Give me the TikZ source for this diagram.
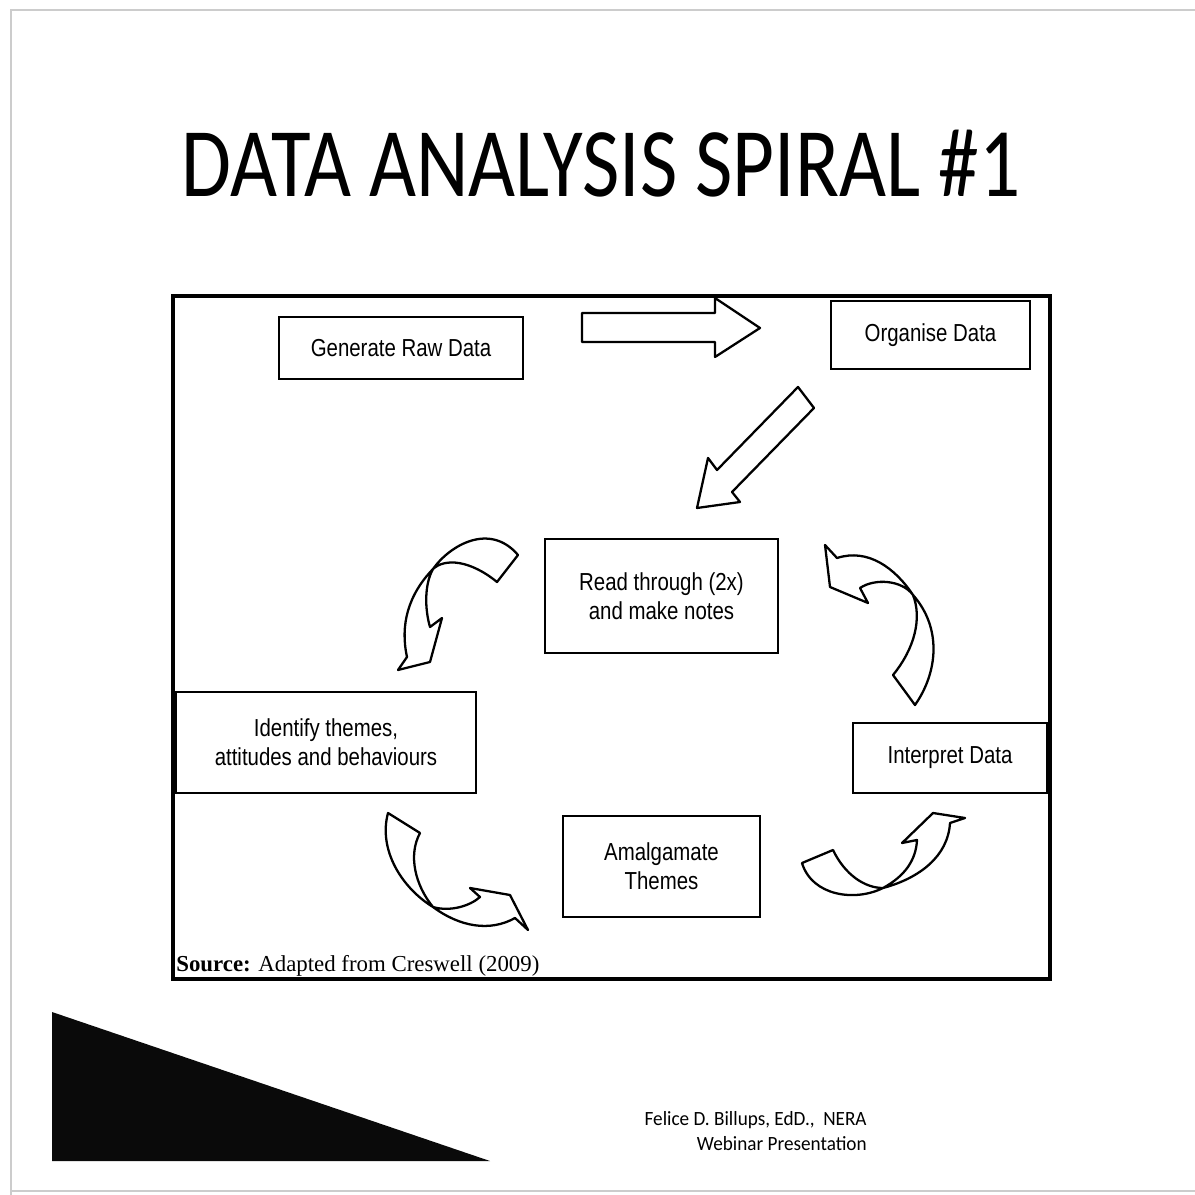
\documentclass[tikz,border=0pt]{standalone}
\usepackage{fontspec}
\setmainfont{Liberation Sans}
\newfontfamily\boxfont[FakeStretch=0.83]{Liberation Sans}
\newfontfamily\titlefont[FakeStretch=0.825]{Carlito}
\newfontfamily\notefont[FakeStretch=0.95]{Carlito}
\newfontfamily\srcfont{Liberation Serif}
\definecolor{slideedge}{gray}{0.8}
\tikzset{
  stepbox/.style={draw, line width=1.6pt, inner sep=0pt, align=center,
    font=\boxfont\fontsize{14}{16.5}\selectfont},
  blockarrow/.style={draw, line width=1.3pt, fill=white, line join=round}
}

\begin{document}
\begin{tikzpicture}[x=0.02cm, y=-0.02cm]
\useasboundingbox (0,0) rectangle (1194,1195);
% slide edge
\draw[slideedge, line width=1.6pt] (11,1200) -- (11,10) -- (1200,10);
\draw[slideedge, line width=1.2pt] (11,1191) -- (1200,1191);
\node[anchor=base, font=\titlefont\fontsize{56}{60}\selectfont] (title) at (601,197) {DATA ANALYSIS SPIRAL \#1};

% frame round the spiral
\draw[line width=2pt] (173,296) rectangle (1050,979);

% steps
\node[stepbox, minimum width=4.88cm, minimum height=1.24cm] (raw) at (401,348) {Generate Raw Data};
\node[stepbox, minimum width=3.98cm, minimum height=1.36cm] (organise) at (930.5,335) {Organise Data};
\node[stepbox, minimum width=4.66cm, minimum height=2.28cm] (read) at (661.5,596) {Read through (2x)\\and make notes};
\node[stepbox, minimum width=6cm, minimum height=2.02cm] (themes) at (326,742.5) {Identify themes,\\attitudes and behaviours};
\node[stepbox, minimum width=3.88cm, minimum height=1.4cm] (interpret) at (950,758) {Interpret Data};
\node[stepbox, minimum width=3.94cm, minimum height=2.02cm] (amalgamate) at (661.5,866.5) {Amalgamate\\Themes};

% straight block arrows
\draw[blockarrow] (582,313) -- (715,313) -- (715,298) -- (760,328) -- (715,357) -- (715,342) -- (582,342) -- cycle;
\draw[blockarrow] (798,387) -- (717,470) -- (708,458) -- (697,508) -- (740,502) -- (732,492) -- (814,408) -- cycle;

% twisted arrows round the loop
\draw[blockarrow] (518,555) -- (497,582) .. controls (470,560) and (445,558) .. (433,569)
  .. controls (424,585) and (425,610) .. (430,627) -- (442,618) -- (430,662) -- (398,670) -- (407,657)
  .. controls (400,625) and (408,595) .. (433,569) .. controls (450,545) and (490,522) .. cycle;
\draw[blockarrow] (915,705) .. controls (938,672) and (942,628) .. (913,595)
  .. controls (895,568) and (868,548) .. (837,558) -- (825,545) -- (830,587) -- (868,603) -- (860,588)
  .. controls (875,578) and (902,580) .. (913,595) .. controls (922,618) and (915,648) .. (893,675) -- cycle;
\draw[blockarrow] (388,813) -- (420,833) .. controls (408,855) and (415,885) .. (433,907)
  .. controls (450,912) and (470,906) .. (480,897) -- (470,888) -- (510,895) -- (528,930) -- (515,918)
  .. controls (490,932) and (460,927) .. (433,907) .. controls (402,888) and (378,850) .. cycle;
\draw[blockarrow] (802,863) -- (833,850) .. controls (845,875) and (865,888) .. (883,888)
  .. controls (905,876) and (916,860) .. (917,840) -- (902,843) -- (933,813) -- (965,818) -- (950,823)
  .. controls (948,856) and (920,878) .. (883,888) .. controls (855,902) and (812,896) .. cycle;

\node[anchor=base west, font=\srcfont\fontsize{13}{15}\selectfont, inner sep=0pt] (source) at (176,971) {\textbf{Source:} Adapted from Creswell (2009)};

% corner wedge and footer
\fill[black!96] (52,1012) -- (52,1161) -- (490,1161) -- cycle;
\node[anchor=base east, font=\notefont\fontsize{11.5}{13}\selectfont, inner sep=0pt] (author) at (867,1125) {Felice D. Billups, EdD.,\ \ NERA};
\node[anchor=base east, font=\notefont\fontsize{11.5}{13}\selectfont, inner sep=0pt] (webinar) at (867,1150) {Webinar Presentation};
\end{tikzpicture}
\end{document}
